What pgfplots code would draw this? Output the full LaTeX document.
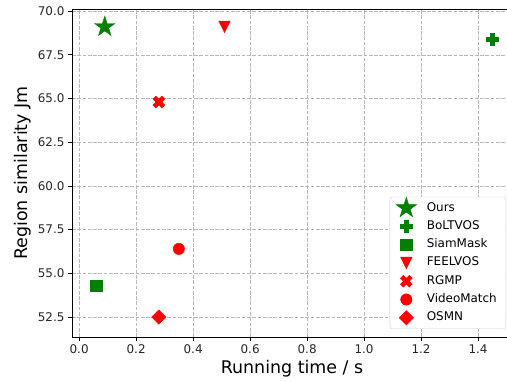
\documentclass[border=0pt]{standalone}
\usepackage{pgfplots}
\pgfplotsset{compat=1.18}
\usepackage{fontspec}
\setmainfont{DejaVu Sans}
\definecolor{mplgreen}{HTML}{008000}
\definecolor{mplred}{HTML}{FF0000}
\definecolor{gridgray}{HTML}{B8B8B8}
\definecolor{leggray}{HTML}{D0D0D0}

\pgfdeclareplotmark{fstar}{%
  \pgfpathmoveto{\pgfpointpolar{90}{\pgfplotmarksize}}%
  \pgfpathlineto{\pgfpointpolar{126}{0.382*\pgfplotmarksize}}%
  \pgfpathlineto{\pgfpointpolar{162}{\pgfplotmarksize}}%
  \pgfpathlineto{\pgfpointpolar{198}{0.382*\pgfplotmarksize}}%
  \pgfpathlineto{\pgfpointpolar{234}{\pgfplotmarksize}}%
  \pgfpathlineto{\pgfpointpolar{270}{0.382*\pgfplotmarksize}}%
  \pgfpathlineto{\pgfpointpolar{306}{\pgfplotmarksize}}%
  \pgfpathlineto{\pgfpointpolar{342}{0.382*\pgfplotmarksize}}%
  \pgfpathlineto{\pgfpointpolar{18}{\pgfplotmarksize}}%
  \pgfpathlineto{\pgfpointpolar{54}{0.382*\pgfplotmarksize}}%
  \pgfpathclose
  \pgfusepathqfillstroke}

\pgfdeclareplotmark{fplus}{%
  \pgfpathmoveto{\pgfpoint{-\pgfplotmarksize/3}{-\pgfplotmarksize}}%
  \pgfpathlineto{\pgfpoint{-\pgfplotmarksize/3}{-\pgfplotmarksize/3}}%
  \pgfpathlineto{\pgfpoint{-\pgfplotmarksize}{-\pgfplotmarksize/3}}%
  \pgfpathlineto{\pgfpoint{-\pgfplotmarksize}{\pgfplotmarksize/3}}%
  \pgfpathlineto{\pgfpoint{-\pgfplotmarksize/3}{\pgfplotmarksize/3}}%
  \pgfpathlineto{\pgfpoint{-\pgfplotmarksize/3}{\pgfplotmarksize}}%
  \pgfpathlineto{\pgfpoint{\pgfplotmarksize/3}{\pgfplotmarksize}}%
  \pgfpathlineto{\pgfpoint{\pgfplotmarksize/3}{\pgfplotmarksize/3}}%
  \pgfpathlineto{\pgfpoint{\pgfplotmarksize}{\pgfplotmarksize/3}}%
  \pgfpathlineto{\pgfpoint{\pgfplotmarksize}{-\pgfplotmarksize/3}}%
  \pgfpathlineto{\pgfpoint{\pgfplotmarksize/3}{-\pgfplotmarksize/3}}%
  \pgfpathlineto{\pgfpoint{\pgfplotmarksize/3}{-\pgfplotmarksize}}%
  \pgfpathclose
  \pgfusepathqfillstroke}

\pgfdeclareplotmark{tridown}{%
  \pgfpathmoveto{\pgfpoint{0pt}{-\pgfplotmarksize}}%
  \pgfpathlineto{\pgfpoint{-\pgfplotmarksize}{\pgfplotmarksize}}%
  \pgfpathlineto{\pgfpoint{\pgfplotmarksize}{\pgfplotmarksize}}%
  \pgfpathclose
  \pgfusepathqfillstroke}

\begin{document}
\begin{tikzpicture}
\useasboundingbox (-72bp,-44bp) rectangle (435bp,337bp);
\begin{axis}[
  at={(0,0)}, anchor=south west,
  scale only axis,
  width=440bp, height=328bp,
  xmin=-0.025, xmax=1.519,
  ymin=51.36, ymax=70.12,
  xtick={0,0.2,0.4,0.6,0.8,1.0,1.2,1.4},
  ytick={52.5,55,57.5,60,62.5,65,67.5,70},
  /pgf/number format/assume math mode=true,
  xticklabel style={/pgf/number format/fixed, /pgf/number format/fixed zerofill, /pgf/number format/precision=1},
  yticklabel style={/pgf/number format/fixed, /pgf/number format/fixed zerofill, /pgf/number format/precision=1},
  tick label style={font=\fontsize{12}{14}\selectfont, color=black!85},
  tick align=outside, tick pos=left,
  major tick length=4bp,
  every tick/.style={black, line width=0.8bp},
  grid=major,
  major grid style={gridgray, dash pattern=on 3.7bp off 1.6bp, line width=0.55bp},
  axis line style={line width=0.8bp},
  xlabel={Running time / s},
  ylabel={Region similarity Jm},
  label style={font=\fontsize{17.5}{20}\selectfont},
  legend style={at={(axis description cs:1,0)}, anchor=south east,
    xshift=-6bp, yshift=8bp,
    draw=leggray, rounded corners=2.5bp, fill=white,
    font=\fontsize{12}{14}\selectfont, row sep=6.3bp, column sep=8bp,
    inner xsep=6.5bp, inner ysep=5bp,
    nodes={inner ysep=0pt, inner xsep=2.5bp, text height=8.5bp, text depth=2.5bp}},
  legend cell align=left,
  legend image code/.code={%
    \path[draw=none, fill=none] (-10bp,-6bp) rectangle (10bp,6bp);
    \begin{pgfinterruptboundingbox}
    \draw[#1] plot coordinates {(0bp,0bp)};
    \end{pgfinterruptboundingbox}},
]
\addplot[only marks, mark=fstar, mark size=10.7bp, color=mplgreen] coordinates {(0.09,69.1)};
\addlegendentry{Ours}
\addplot[only marks, mark=fplus, mark size=6bp, color=mplgreen] coordinates {(1.45,68.4)};
\addlegendentry{BoLTVOS}
\addplot[only marks, mark=square*, mark size=5.8bp, color=mplgreen] coordinates {(0.06,54.3)};
\addlegendentry{SiamMask}
\addplot[only marks, mark=tridown, mark size=5.8bp, color=mplred] coordinates {(0.51,69.1)};
\addlegendentry{FEELVOS}
\addplot[only marks, mark=fplus, mark size=6.3bp, mark options={rotate=45}, color=mplred] coordinates {(0.28,64.8)};
\addlegendentry{RGMP}
\addplot[only marks, mark=*, mark size=5.7bp, color=mplred] coordinates {(0.35,56.4)};
\addlegendentry{VideoMatch}
\addplot[only marks, mark=square*, mark size=5.1bp, mark options={rotate=45}, color=mplred] coordinates {(0.28,52.5)};
\addlegendentry{OSMN}
\end{axis}
\end{tikzpicture}
\end{document}
